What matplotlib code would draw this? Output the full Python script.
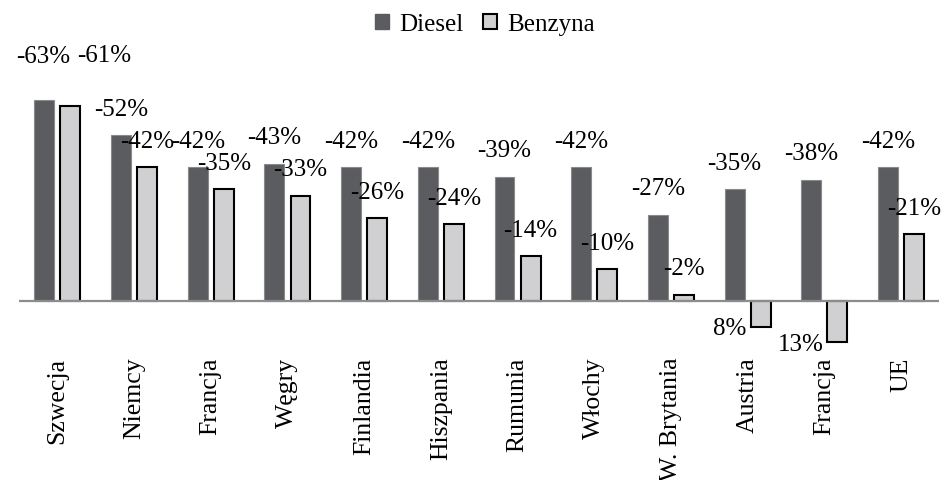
import numpy as np
import matplotlib
matplotlib.use("Agg")
import matplotlib.pyplot as plt
from matplotlib.patches import Patch

plt.rcParams['font.family'] = ['Liberation Serif', 'DejaVu Serif']

# data (reduction in %, shown as negative labels)
countries = ['Szwecja', 'Niemcy', 'Francja', 'Węgry', 'Finlandia', 'Hiszpania',
             'Rumunia', 'Włochy', 'W. Brytania', 'Austria', 'Francja', 'UE']
diesel = [63, 52, 42, 43, 42, 42, 39, 42, 27, 35, 38, 42]
benzyna = [61, 42, 35, 33, 26, 24, 14, 10, 2, -8, -13, 21]

dark = '#5b5c60'
light = '#d0d0d2'

fig = plt.figure(figsize=(9.45, 4.81), dpi=100)
ax = fig.add_axes([0.0201, 0.2723, 0.974, 0.6445])

x = np.arange(len(countries))
w = 0.26
off = 0.17

ax.bar(x - off, diesel, w, color=dark, edgecolor='#8a8a8a', linewidth=0.8, zorder=2)
ax.bar(x + off, benzyna, w, color=light, edgecolor='black', linewidth=1.5, zorder=2)
ax.axhline(0, color='#8c8c8c', linewidth=1.6, zorder=3)

def lab(v):
    return f"-{v}%" if v > 0 else f"{-v}%"

# first group labels were moved by hand in the original (dx, dy in points)
extra_d = {0: (-1, 13)}
extra_b = {0: (24, 18)}

for i in range(len(countries)):
    dxd, dyd = extra_d.get(i, (0, 0))
    dxb, dyb = extra_b.get(i, (0, 0))
    ax.annotate(lab(diesel[i]), (x[i] - off, diesel[i]), xytext=(dxd, 19 + dyd),
                textcoords='offset points', ha='center', va='center', fontsize=18)
    vb = benzyna[i]
    if vb >= 0:
        ax.annotate(lab(vb), (x[i] + off, vb), xytext=(dxb, 19 + dyb),
                    textcoords='offset points', ha='center', va='center', fontsize=18)
    else:
        ax.annotate(lab(vb), (x[i] + off - w / 2, vb), xytext=(-3, -1),
                    textcoords='offset points', ha='right', va='center', fontsize=18)

ax.set_xlim(-0.5, len(countries) - 0.5)
ax.set_ylim(-15.05, 82.1)
ax.set_xticks(x)
ax.set_xticklabels(countries, rotation=90, fontsize=18.5)
ax.tick_params(axis='x', length=0, pad=5.5)
ax.set_yticks([])
for s in ax.spines.values():
    s.set_visible(False)

handles = [Patch(facecolor=dark, edgecolor=dark, label='Diesel'),
           Patch(facecolor=light, edgecolor='black', linewidth=1.5, label='Benzyna')]
fig.legend(handles=handles, loc='center', bbox_to_anchor=(0.513, 0.948), ncol=2,
           frameon=False, fontsize=18, handlelength=0.55, handleheight=0.55,
           handletextpad=0.4, columnspacing=0.8)

fig.savefig('out.png', dpi=100)
